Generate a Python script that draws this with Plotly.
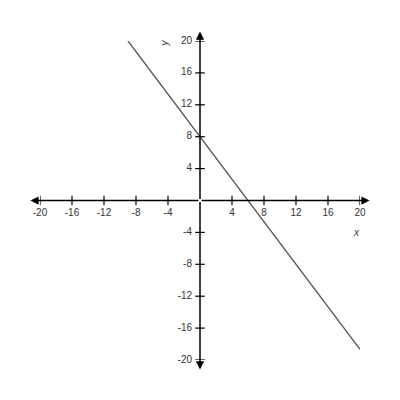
import plotly.graph_objects as go

# line y = -4/3 x + 8, drawn between the two visible endpoints
line_x = [-9, 20]
line_y = [20, -18.67]

tick_vals = [-20, -16, -12, -8, -4, 4, 8, 12, 16, 20]
tick_text = [str(v) for v in tick_vals]

fig = go.Figure()

# the line itself
fig.add_trace(go.Scatter(
    x=line_x, y=line_y, mode='lines',
    line=dict(color='#555555', width=1.3),
    hoverinfo='skip', showlegend=False, cliponaxis=False
))

# tick marks crossing the axes
tx, ty = [], []
for v in tick_vals:
    tx += [v, v, None]
    ty += [-0.6, 0.6, None]
    tx += [-0.6, 0.6, None]
    ty += [v, v, None]
fig.add_trace(go.Scatter(
    x=tx, y=ty, mode='lines', line=dict(color='black', width=1.2),
    hoverinfo='skip', showlegend=False, cliponaxis=False
))

# tick labels
fig.add_trace(go.Scatter(
    x=tick_vals, y=[-1.6] * len(tick_vals), mode='text', text=tick_text,
    textposition='middle center',
    textfont=dict(family='Liberation Sans, Arial', size=10, color='#333333'),
    hoverinfo='skip', showlegend=False, cliponaxis=False
))
fig.add_trace(go.Scatter(
    x=[-1.0] * len(tick_vals), y=tick_vals, mode='text', text=tick_text,
    textposition='middle left',
    textfont=dict(family='Liberation Sans, Arial', size=10, color='#333333'),
    hoverinfo='skip', showlegend=False, cliponaxis=False
))

# axes with arrowheads at both ends
for ex, ey in [(21.2, 0), (-21.2, 0), (0, 21.2), (0, -21.2)]:
    fig.add_annotation(
        x=ex, y=ey, ax=0, ay=0, xref='x', yref='y', axref='x', ayref='y',
        showarrow=True, arrowhead=2, arrowsize=1.1, arrowwidth=1.5,
        arrowcolor='black', text=''
    )

# axis names
fig.add_annotation(x=19.5, y=-4.0, text='<i>x</i>', showarrow=False,
                   font=dict(family='Liberation Sans, Arial', size=10, color='#444444'))
fig.add_annotation(x=-4.4, y=19.8, text='<i>y</i>', showarrow=False, textangle=-90,
                   font=dict(family='Liberation Sans, Arial', size=10, color='#444444'))

fig.update_xaxes(range=[-20, 20], visible=False, fixedrange=True)
fig.update_yaxes(range=[-20, 20], visible=False, fixedrange=True)
# page body adds 8px offset, so margins are shifted to put the plot area at 40..360
fig.update_layout(
    width=392, height=392,
    margin=dict(l=32, r=40, t=33, b=40),
    plot_bgcolor='white', paper_bgcolor='white'
)

fig.write_html("out.html")
